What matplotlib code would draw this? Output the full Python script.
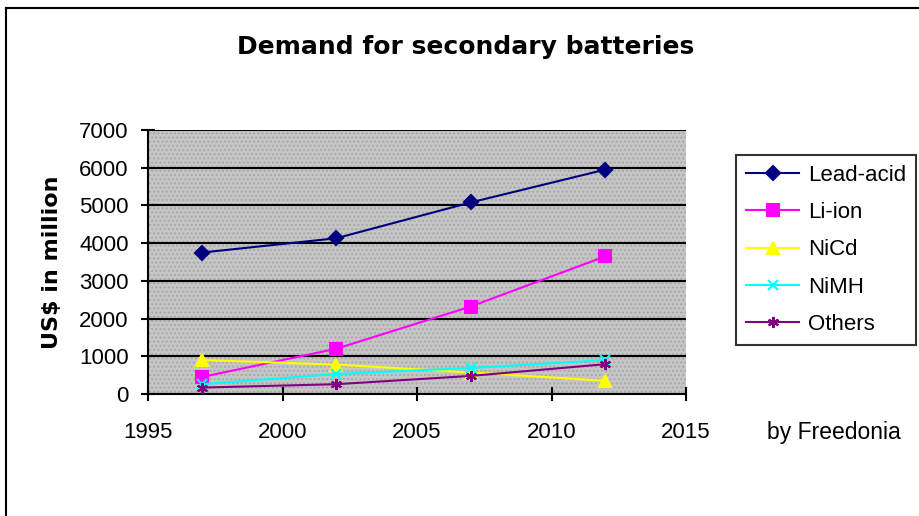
import numpy as np
import matplotlib.pyplot as plt
from matplotlib.patches import Rectangle

years = [1997, 2002, 2007, 2012]
lead_acid = [3750, 4130, 5080, 5950]
li_ion = [450, 1200, 2320, 3650]
nicd = [900, 780, 570, 350]
nimh = [260, 530, 690, 900]
others = [170, 260, 480, 790]

series = [
    ("Lead-acid", lead_acid, "#000080", "D", 7),
    ("Li-ion", li_ion, "#ff00ff", "s", 8),
    ("NiCd", nicd, "#ffff00", "^", 9),
    ("NiMH", nimh, "#00ffff", "x", 7),
    ("Others", others, "#800080", (6, 2, 0), 8),
]

plt.rcParams['font.family'] = ['Liberation Sans', 'DejaVu Sans']

fig = plt.figure(figsize=(9.2, 5.16), dpi=100)
ax = fig.add_axes([148 / 920, 1 - 394 / 516, (686 - 148) / 920, (394 - 130) / 516])

# outer chart border (left and top edges visible)
fig.add_artist(plt.Line2D([6 / 920, 6 / 920], [0, 1 - 8 / 516], transform=fig.transFigure,
                          color='black', lw=1.5))
fig.add_artist(plt.Line2D([6 / 920, 1], [1 - 8 / 516, 1 - 8 / 516], transform=fig.transFigure,
                          color='black', lw=1.5))

# dotted gray plot area
ax.set_facecolor('#c6c6c6')
ax.add_patch(Rectangle((0, 0), 1, 1, transform=ax.transAxes, facecolor='none',
                       edgecolor='#a8a8a8', hatch='....', lw=0, zorder=0))

for name, vals, col, mk, ms in series:
    ax.plot(years, vals, color=col, marker=mk, markersize=ms, lw=1.5,
            markeredgewidth=1.5, label=name, zorder=3, clip_on=False)

ax.set_xlim(1995, 2015)
ax.set_ylim(0, 7000)
ax.set_xticks(np.arange(1995, 2016, 5))
ax.set_yticks(np.arange(0, 7001, 1000))
ax.yaxis.grid(True, color='black', lw=1.5)
ax.set_axisbelow(True)

for s in ['top', 'right']:
    ax.spines[s].set_visible(False)
for s in ['left', 'bottom']:
    ax.spines[s].set_linewidth(1.5)
ax.tick_params(axis='both', direction='inout', length=10, width=1.5, labelsize=16)
ax.tick_params(axis='y', pad=9)
ax.tick_params(axis='x', pad=15)

ax.set_ylabel("US$ in million", fontsize=16, fontweight='bold', labelpad=12,
              family='DejaVu Sans')
fig.text(466 / 920, 1 - 47 / 516, "Demand for secondary batteries", fontsize=18,
         fontweight='bold', ha='center', va='center', family='DejaVu Sans')
fig.text(834 / 920, 1 - 432 / 516, "by Freedonia", fontsize=16.5, ha='center', va='center')

leg = fig.legend(loc='upper left', bbox_to_anchor=(736 / 920, 1 - 155 / 516), fontsize=16,
                 frameon=True, fancybox=False, edgecolor='black', handlelength=2.4,
                 borderpad=0.45, labelspacing=0.73, handletextpad=0.4, borderaxespad=0)
leg.get_frame().set_linewidth(1.5)

fig.savefig("out.png", dpi=100)
